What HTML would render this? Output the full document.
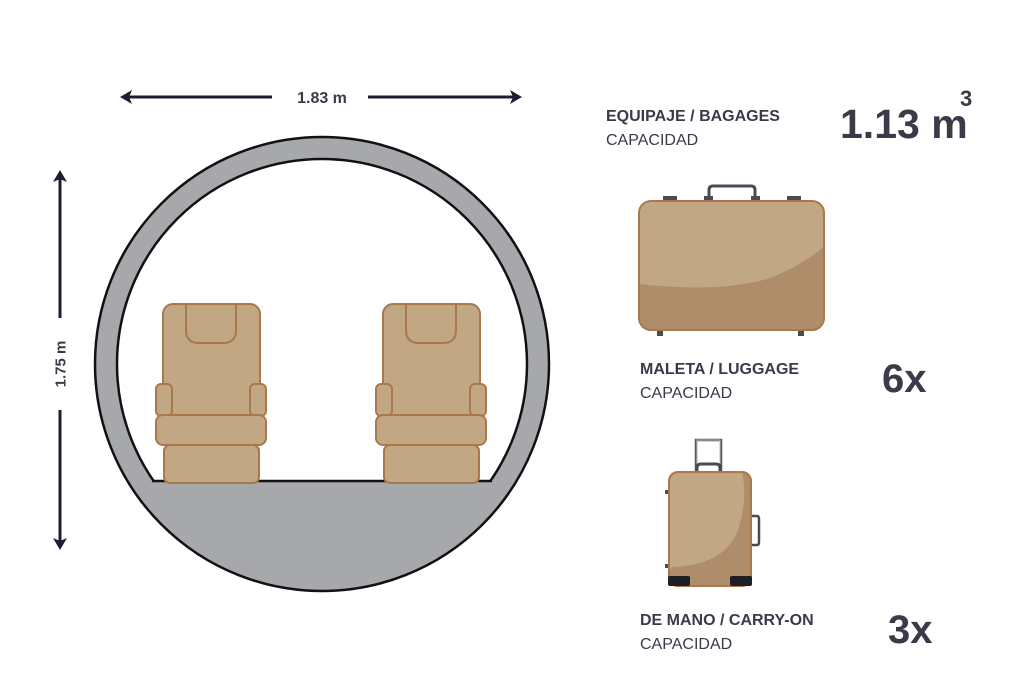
<!DOCTYPE html>
<html><head><meta charset="utf-8"><style>
html,body{margin:0;padding:0;background:#fff;width:1024px;height:700px;overflow:hidden}
svg{display:block}
text{font-family:"Liberation Sans",sans-serif;fill:#3b3a48}
</style></head><body>
<svg width="1024" height="700" viewBox="0 0 1024 700">
<defs>
<clipPath id="ic"><circle cx="322" cy="364" r="208"/></clipPath>
<clipPath id="sc"><rect x="639" y="201" width="185" height="129" rx="12"/></clipPath>
<clipPath id="cc"><rect x="669" y="472" width="82" height="114" rx="9"/></clipPath>
<g id="seat" fill="#c1a783" stroke="#a8794c" stroke-width="2">
<rect x="164" y="445" width="95" height="38" rx="6"/>
<rect x="163" y="304" width="97" height="141" rx="10"/>
<path d="M186 304 V330 Q186 343 199 343 H223 Q236 343 236 330 V304" fill="none"/>
<rect x="156" y="384" width="16" height="32" rx="5"/>
<rect x="250" y="384" width="16" height="32" rx="5"/>
<rect x="156" y="415" width="110" height="30" rx="7"/>
</g>
</defs>
<!-- arrows -->
<g stroke="#1c1d33" stroke-width="3" fill="#1c1d33">
<line x1="128" y1="97" x2="272" y2="97"/><line x1="368" y1="97" x2="514" y2="97"/>
<path d="M120 97 L132 90 L129 97 L132 104Z" stroke="none"/>
<path d="M522 97 L510 90 L513 97 L510 104Z" stroke="none"/>
<line x1="60" y1="178" x2="60" y2="318"/><line x1="60" y1="410" x2="60" y2="542"/>
<path d="M60 170 L53 182 L60 179 L67 182Z" stroke="none"/>
<path d="M60 550 L53 538 L60 541 L67 538Z" stroke="none"/>
</g>
<text x="322" y="103" font-size="16" text-anchor="middle" font-weight="bold">1.83 m</text>
<text transform="translate(65.5,364) rotate(-90)" font-size="15" text-anchor="middle" font-weight="bold">1.75 m</text>
<!-- fuselage -->
<circle cx="322" cy="364" r="216" fill="none" stroke="#a7a8ab" stroke-width="22"/>
<circle cx="322" cy="364" r="227" fill="none" stroke="#111" stroke-width="2.5"/>
<circle cx="322" cy="364" r="205" fill="#fff" stroke="#111" stroke-width="2.5"/>
<g clip-path="url(#ic)"><rect x="100" y="481" width="450" height="200" fill="#a7a8ab"/></g>
<line x1="152" y1="481" x2="492" y2="481" stroke="#111" stroke-width="2.5"/>
<use href="#seat"/>
<use href="#seat" transform="translate(220,0)"/>
<!-- suitcase -->
<g fill="#4a4a55">
<path d="M709 201 V190 Q709 186 713 186 H751 Q755 186 755 190 V201" fill="none" stroke="#4a4a55" stroke-width="3"/>
<rect x="663" y="196" width="14" height="6"/><rect x="787" y="196" width="14" height="6"/>
<rect x="704" y="196" width="9" height="6"/><rect x="751" y="196" width="9" height="6"/>
<rect x="657" y="329" width="6" height="7"/><rect x="798" y="329" width="6" height="7"/>
</g>
<rect x="639" y="201" width="185" height="129" rx="12" fill="#c1a783"/>
<path clip-path="url(#sc)" d="M630 283 Q720 294 770 278 Q810 262 830 240 V340 H630Z" fill="#af8d6b"/>
<rect x="639" y="201" width="185" height="129" rx="12" fill="none" stroke="#a8794c" stroke-width="2"/>
<!-- carry-on -->
<path d="M696 472 V440 H721 V472" fill="none" stroke="#55555f" stroke-width="2.5"/>
<path d="M697 472 V440 H720 V472" fill="none" stroke="#b9bbc0" stroke-width="1"/>
<path d="M697 472 V468 Q697 464 701 464 H716 Q720 464 720 468 V472" fill="none" stroke="#4a4a55" stroke-width="3"/>
<path d="M751 516 H757 Q759 516 759 519 V542 Q759 545 757 545 H751" fill="none" stroke="#4a4a55" stroke-width="2.5"/>
<rect x="665" y="490" width="5" height="4" fill="#4a4a55"/><rect x="665" y="564" width="5" height="4" fill="#4a4a55"/>
<rect x="669" y="472" width="82" height="114" rx="9" fill="#c1a783"/>
<path clip-path="url(#cc)" d="M672 567 Q725 565 738 530 Q748 500 742 472 H760 V590 H660Z" fill="#af8d6b"/>
<rect x="669" y="472" width="82" height="114" rx="9" fill="none" stroke="#a8794c" stroke-width="2"/>
<rect x="668" y="576" width="22" height="10" rx="2" fill="#1e1e24"/>
<rect x="730" y="576" width="22" height="10" rx="2" fill="#1e1e24"/>
<!-- text -->
<text x="606" y="121" font-size="16" font-weight="bold">EQUIPAJE / BAGAGES</text>
<text x="606" y="145" font-size="16">CAPACIDAD</text>
<text x="840" y="138" font-size="41" font-weight="bold">1.13 m</text>
<text x="960" y="106" font-size="22" font-weight="bold">3</text>
<text x="640" y="374" font-size="16" font-weight="bold">MALETA / LUGGAGE</text>
<text x="640" y="398" font-size="16">CAPACIDAD</text>
<text x="882" y="392" font-size="40" font-weight="bold">6x</text>
<text x="640" y="625" font-size="16" font-weight="bold">DE MANO / CARRY-ON</text>
<text x="640" y="649" font-size="16">CAPACIDAD</text>
<text x="888" y="643" font-size="40" font-weight="bold">3x</text>
</svg>
</body></html>
